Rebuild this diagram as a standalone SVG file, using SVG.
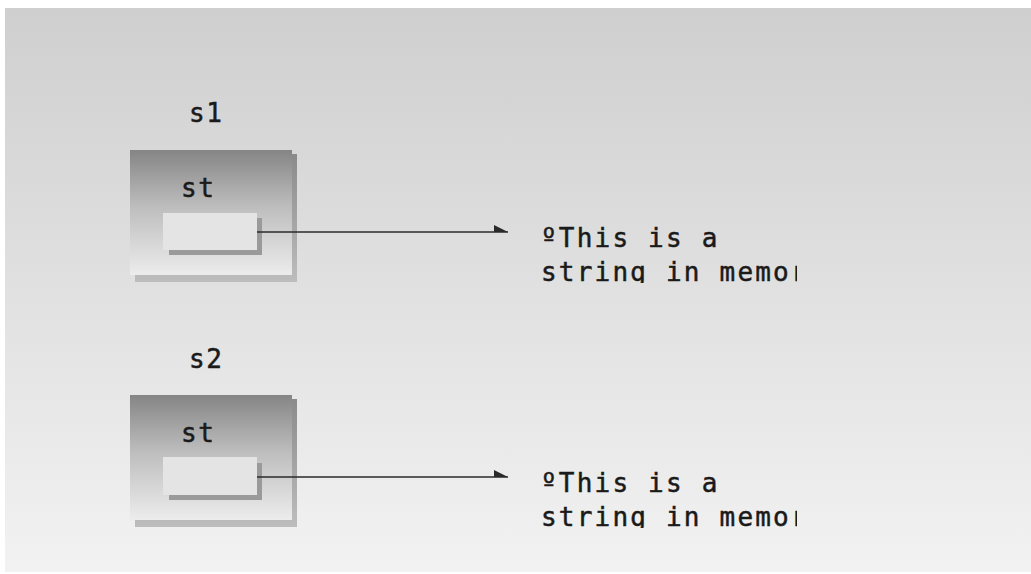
<svg xmlns="http://www.w3.org/2000/svg" width="1031" height="574" viewBox="0 0 1031 574">
<defs>
<linearGradient id="bg" x1="0" y1="0" x2="0" y2="1">
<stop offset="0" stop-color="#cfcfcf"/>
<stop offset="1" stop-color="#f2f2f2"/>
</linearGradient>
<linearGradient id="outer" x1="0" y1="0" x2="0" y2="1">
<stop offset="0" stop-color="#858585"/>
<stop offset="0.45" stop-color="#bdbdbd"/>
<stop offset="1" stop-color="#ececec"/>
</linearGradient>
<linearGradient id="shB" x1="0" y1="0" x2="0" y2="1">
<stop offset="0" stop-color="#8a8a8a"/>
<stop offset="1" stop-color="#bdbdbd"/>
</linearGradient>
<clipPath id="clip1"><rect x="535" y="215" width="262" height="68"/></clipPath>
<clipPath id="clip2"><rect x="535" y="460" width="262" height="68"/></clipPath>
</defs>
<style>
.lbl{font-family:"DejaVu Sans Mono","Liberation Mono",monospace;font-size:26px;fill:#1a1a1a;stroke:#1a1a1a;stroke-width:0.5;letter-spacing:1.5px}
.str{font-family:"DejaVu Sans Mono","Liberation Mono",monospace;font-size:26px;fill:#1a1a1a;stroke:#1a1a1a;stroke-width:0.5;letter-spacing:2.2px}
.conn{stroke:#2a2a2a;stroke-width:1.3;fill:none}
.inner{fill:#e4e4e4}
.innersh{fill:#9a9a9a}
</style>
<rect x="0" y="0" width="1031" height="574" fill="#ffffff"/>
<rect x="5" y="8" width="1026" height="564" fill="url(#bg)"/>

<g id="s1">
<text class="lbl" x="189" y="122">s1</text>
<rect x="135" y="154" width="162" height="128" fill="url(#shB)"/>
<rect x="130" y="150" width="162" height="125" fill="url(#outer)"/>
<rect x="169" y="218" width="93" height="37" class="innersh"/>
<rect x="163" y="213" width="94" height="37" class="inner"/>
<text class="lbl" x="181" y="197">st</text>
</g>

<g id="str1">
<text class="str" x="541" y="247">ºThis is a</text>
<text class="str" x="541" y="281" clip-path="url(#clip1)">string in memory</text>
</g>

<g id="s2">
<text class="lbl" x="189" y="368">s2</text>
<rect x="135" y="399" width="162" height="128" fill="url(#shB)"/>
<rect x="130" y="395" width="162" height="125" fill="url(#outer)"/>
<rect x="169" y="463" width="93" height="37" class="innersh"/>
<rect x="163" y="457" width="94" height="38" class="inner"/>
<text class="lbl" x="181" y="442">st</text>
</g>

<g id="str2">
<text class="str" x="541" y="492">ºThis is a</text>
<text class="str" x="541" y="526" clip-path="url(#clip2)">string in memory</text>
</g>

<g id="connectors">
<path class="conn" d="M257 232 H508"/>
<path d="M494 225 L508 232 L494 232 Z" fill="#2a2a2a"/>
<path class="conn" d="M257 477 H508"/>
<path d="M494 470 L508 477 L494 477 Z" fill="#2a2a2a"/>
</g>
</svg>
